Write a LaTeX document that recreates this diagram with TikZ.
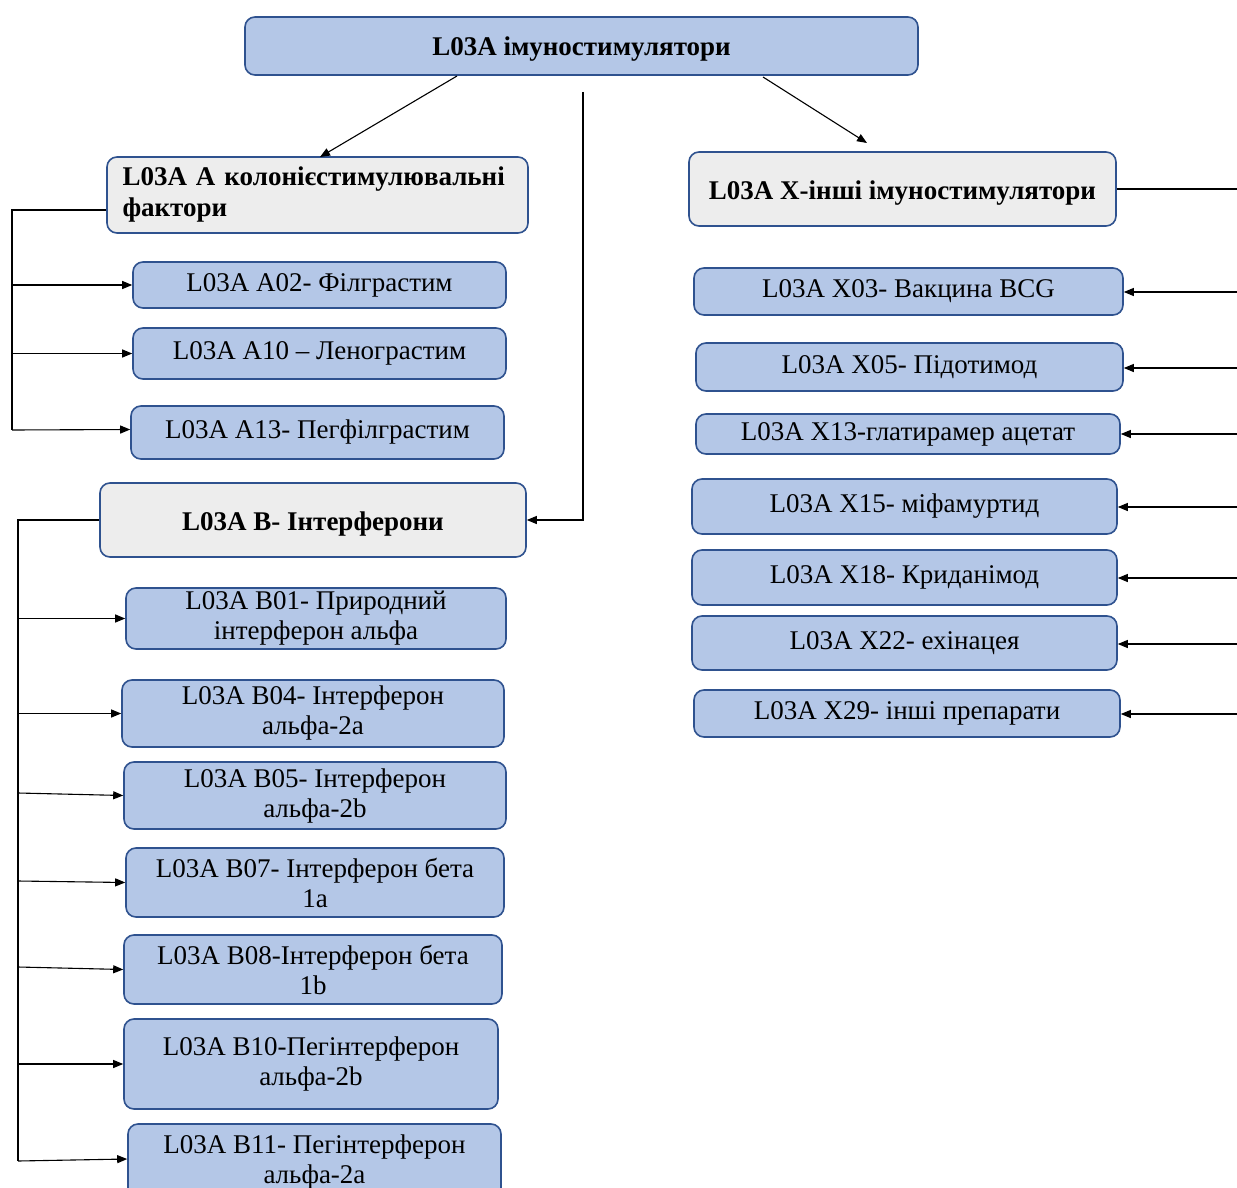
\documentclass[tikz,border=0pt]{standalone}
\usepackage{fontspec}
\setmainfont{Liberation Serif}
\usetikzlibrary{arrows.meta}
\definecolor{bluefill}{HTML}{B4C7E7}
\definecolor{grayfill}{HTML}{EDEDED}
\definecolor{bordercol}{HTML}{2F528F}
\begin{document}
\begin{tikzpicture}[x=1pt,y=-1pt,
  basebox/.style={draw=bordercol, line width=1.6pt, rounded corners=10pt, inner sep=0pt, align=center,
     font=\fontsize{27}{30}\selectfont},
  bbox/.style n args={2}{basebox, fill=bluefill, minimum width=#1, minimum height=#2},
  gbox/.style n args={2}{basebox, fill=grayfill, minimum width=#1, minimum height=#2, font=\fontsize{27}{31}\selectfont\bfseries},
  oneline/.style={text height=24pt, text depth=4pt},
  conn/.style={line width=1.1pt, black},
  arr/.style={conn, -{Triangle[length=10pt,width=8pt]}}]
\useasboundingbox (0,0) rectangle (1237,1188);
\fill[white] (0,0) rectangle (1237,1188);

% top
\node[bbox={673pt}{58pt}, oneline, font=\fontsize{27}{30}\selectfont\bfseries] (top) at (581.5,46) {L03A імуностимулятори};

% group A
\node[gbox={421pt}{76pt}, text width=390pt, align=left] (A) at (317.5,195) {L03A А колонієстимулювальні\\фактори};
\node[bbox={373pt}{46pt}] (a02) at (319.5,285) {L03A A02- Філграстим};
\node[bbox={373pt}{51pt}] (a10) at (319.5,353.5) {L03A A10 -- Ленограстим};
\node[bbox={373pt}{53pt}] (a13) at (317.5,432.5) {L03A A13- Пегфілграстим};

% group B
\node[gbox={426pt}{74pt}, oneline] (B) at (313,520) {L03A В- Інтерферони};
\node[bbox={380pt}{61pt}] (b01) at (316,618.5) {L03A B01- Природний\\інтерферон альфа};
\node[bbox={382pt}{67pt}] (b04) at (313,713.5) {L03A B04- Інтерферон\\альфа-2a};
\node[bbox={382pt}{67pt}] (b05) at (315,795.5) {L03A B05- Інтерферон\\альфа-2b};
\node[bbox={378pt}{69pt}] (b07) at (315,882.5) {L03A B07- Інтерферон бета\\1a};
\node[bbox={378pt}{69pt}] (b08) at (313,969.5) {L03A B08-Інтерферон бета\\1b};
\node[bbox={374pt}{90pt}] (b10) at (311,1064) {L03A B10-Пегінтерферон\\альфа-2b};
\node[bbox={373pt}{76pt}] (b11) at (314.5,1162) {L03A B11- Пегінтерферон\\альфа-2a};

% group X
\node[gbox={427pt}{74pt}, oneline] (X) at (902.5,189) {L03A Х-інші імуностимулятори};
\node[bbox={429pt}{47pt}] (x03) at (908.5,291.5) {L03A X03- Вакцина BCG};
\node[bbox={427pt}{48pt}] (x05) at (909.5,367) {L03A X05- Підотимод};
\node[bbox={424pt}{40pt}] (x13) at (908,434) {L03A X13-глатирамер\ ацетат};
\node[bbox={425pt}{55pt}] (x15) at (904.5,506.5) {L03A X15- міфамуртид};
\node[bbox={425pt}{55pt}] (x18) at (904.5,577.5) {L03A X18- Криданімод};
\node[bbox={425pt}{54pt}] (x22) at (904.5,643) {L03A X22- ехінацея};
\node[bbox={426pt}{47pt}] (x29) at (907,713.5) {L03A X29- інші препарати};

% top connectors
\coordinate (t1) at (457,76);
\coordinate (t2) at (763,77);
\coordinate (t3) at (583,92);
\coordinate (aTip) at (320,157);
\coordinate (xTip) at (867,143);
\draw[arr] (t1) -- (aTip);
\draw[arr] (t2) -- (xTip);
\draw[arr] (t3) -- (583,520) -- (B.east);

% trunk A
\coordinate (ta0) at (12,210);
\coordinate (ta1) at (12,285);
\coordinate (ta2) at (12,353.5);
\coordinate (ta3) at (12,430);
\draw[conn] ([yshift=-15pt]A.west) -- (ta0) -- (ta3);
\draw[arr] (ta1) -- (a02.west);
\draw[arr] (ta2) -- (a10.west);
\draw[arr] (ta3) -- ([yshift=3pt]a13.west);

% trunk B
\coordinate (tb0) at (18,520);
\coordinate (tb1) at (18,618.5);
\coordinate (tb2) at (18,713.5);
\coordinate (tb3) at (18,793);
\coordinate (tb4) at (18,881);
\coordinate (tb5) at (18,967);
\coordinate (tb6) at (18,1064);
\coordinate (tb7) at (18,1161);
\draw[conn] (B.west) -- (tb0) -- (tb7);
\draw[arr] (tb1) -- (b01.west);
\draw[arr] (tb2) -- (b04.west);
\draw[arr] (tb3) -- (b05.west);
\draw[arr] (tb4) -- (b07.west);
\draw[arr] (tb5) -- (b08.west);
\draw[arr] (tb6) -- (b10.west);
\draw[arr] (tb7) -- ([yshift=3pt]b11.west);

% right side
\coordinate (rx) at (1237,189);
\draw[conn] (X.east) -- (rx);
\foreach \n/\yy in {x03/292, x05/368, x13/434, x15/507, x18/578, x22/644, x29/714}{
  \coordinate (r\n) at (1237,\yy);
  \draw[arr] (r\n) -- (\n.east |- r\n);
}
\end{tikzpicture}
\end{document}
